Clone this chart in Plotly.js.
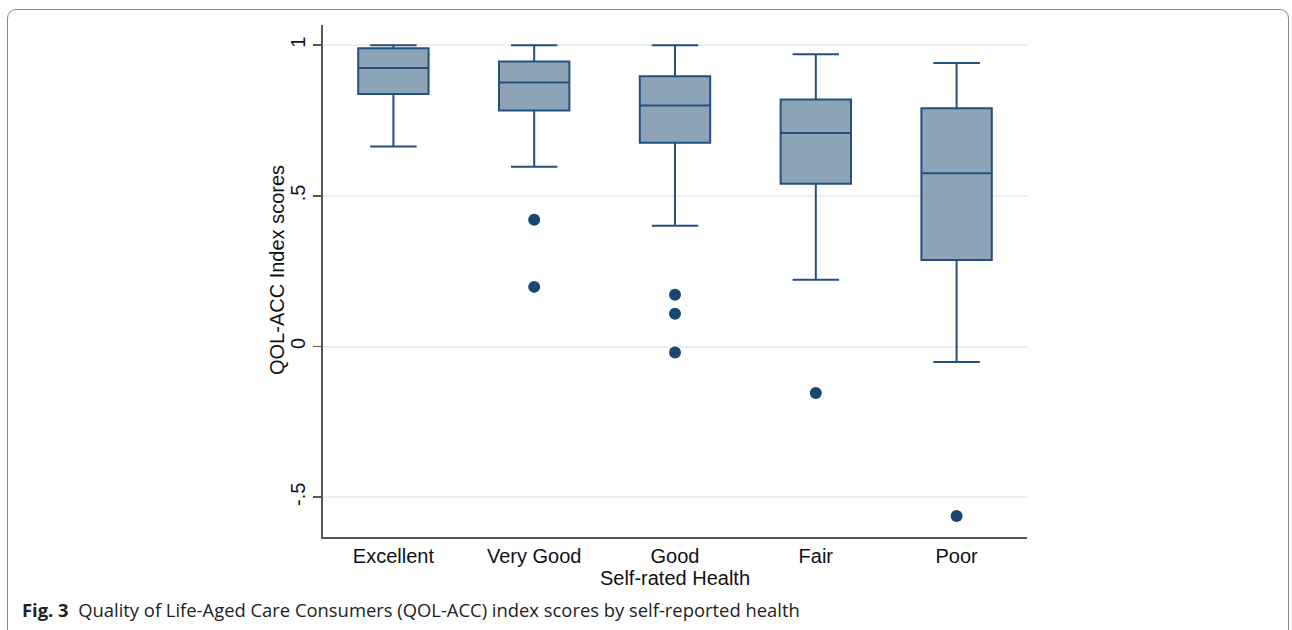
<!DOCTYPE html>
<html>
<head>
<meta charset="utf-8">
<script src="https://cdn.plot.ly/plotly-3.0.1.min.js"></script>
<style>
  html, body { margin: 0; padding: 0; background: #ffffff; }
  #frame { position: absolute; left: 7px; top: 9px; width: 1282px; height: 630px;
           border: 1px solid #8a8a8a; border-radius: 9px; box-sizing: border-box; }
  #chart { position: absolute; left: 0; top: 0; width: 1292px; height: 630px; }
</style>
</head>
<body>
<div id="frame"></div>
<div id="chart"></div>
<script>
const categories = ["Excellent", "Very Good", "Good", "Fair", "Poor"];
const lowerWhisker = [0.664, 0.597, 0.401, 0.222, -0.051];
const q1Values     = [0.838, 0.783, 0.676, 0.540, 0.287];
const medianValues = [0.924, 0.876, 0.800, 0.709, 0.575];
const q3Values     = [0.990, 0.946, 0.897, 0.820, 0.791];
const upperWhisker = [1.000, 1.000, 1.000, 0.970, 0.941];
const outlierCategories = ["Very Good", "Very Good", "Good", "Good", "Good", "Fair", "Poor"];
const outlierValues     = [0.421, 0.198, 0.172, 0.109, -0.020, -0.154, -0.562];
const yTickValues = [-0.5, 0, 0.5, 1];
const yTickLabels = ["-.5", "0", ".5", "1"];

const lineColor = "#24507f";
const fillColor = "#8da3b8";
const dotColor = "#1b4672";
const axisFont = { family: "Liberation Sans, Arial, sans-serif", size: 20, color: "#111" };

const boxTrace = {
  type: "box",
  x: categories,
  q1: q1Values,
  median: medianValues,
  q3: q3Values,
  lowerfence: lowerWhisker,
  upperfence: upperWhisker,
  fillcolor: fillColor,
  line: { color: lineColor, width: 2 },
  whiskerwidth: 0.66,
  width: 0.5,
  boxpoints: false,
  hoverinfo: "skip",
  showlegend: false
};

const outlierTrace = {
  type: "scatter",
  mode: "markers",
  x: outlierCategories,
  y: outlierValues,
  marker: { color: dotColor, size: 12 },
  hoverinfo: "skip",
  showlegend: false
};

const plotW = 704, plotH = 512, marginL = 323, marginT = 25;

const layout = {
  width: 1292,
  height: 630,
  paper_bgcolor: "rgba(0,0,0,0)",
  plot_bgcolor: "rgba(0,0,0,0)",
  margin: { l: 323, r: 265, t: 25, b: 93 },
  showlegend: false,
  font: axisFont,
  xaxis: {
    type: "category",
    categoryorder: "array",
    categoryarray: categories,
    range: [-0.5, 4.5],
    showline: true,
    linecolor: "#555",
    linewidth: 2,
    ticks: "",
    ticklen: 0,
    showgrid: false,
    zeroline: false,
    tickfont: axisFont,
    title: { text: "Self-rated Health", font: axisFont, standoff: 0 }
  },
  yaxis: {
    range: [-0.632, 1.067],
    tickvals: yTickValues,
    ticktext: yTickLabels,
    tickangle: -90,
    ticks: "outside",
    ticklen: 8,
    tickwidth: 1.5,
    tickcolor: "#555",
    showline: true,
    linecolor: "#555",
    linewidth: 2,
    showgrid: true,
    gridcolor: "#e8f0f2",
    gridwidth: 2,
    zeroline: false,
    tickfont: axisFont
  },
  annotations: [{
    xref: "paper", yref: "paper",
    x: (277 - marginL) / plotW, y: 1 - (270 - marginT) / plotH,
    xanchor: "center", yanchor: "middle",
    textangle: -90,
    showarrow: false,
    text: "QOL-ACC Index scores",
    font: axisFont
  }, {
    xref: "paper", yref: "paper",
    x: (20 - marginL) / plotW, y: 1 - (609 - marginT) / plotH,
    xanchor: "left", yanchor: "middle",
    showarrow: false,
    text: "<b>Fig. 3</b>  Quality of Life-Aged Care Consumers (QOL-ACC) index scores by self-reported health",
    font: { family: "Open Sans, sans-serif", size: 18.4, color: "#222" }
  }]
};

Plotly.newPlot("chart", [boxTrace, outlierTrace], layout, { displayModeBar: false, staticPlot: true });
</script>
</body>
</html>
